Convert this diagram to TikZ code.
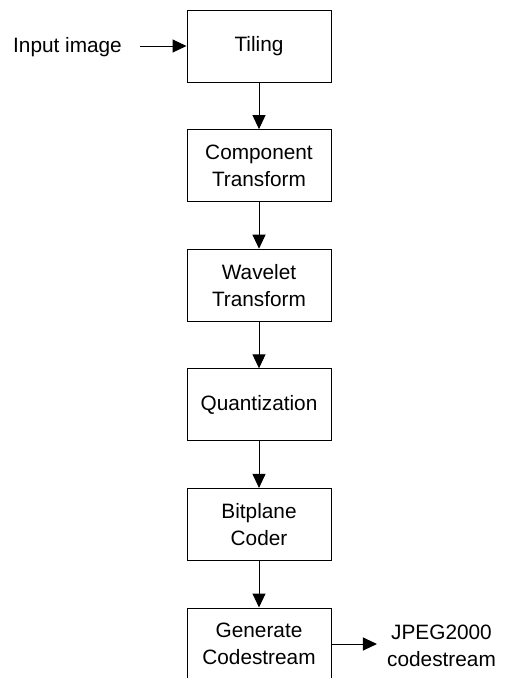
\documentclass[tikz,border=0pt]{standalone}
\usepackage{fontspec}
\setmainfont{Liberation Sans}
\usetikzlibrary{arrows.meta}

\tikzset{
  stage/.style={draw=black, line width=1pt, rectangle, minimum width=144pt,
    minimum height=72pt, inner sep=0pt, align=center},
  flow/.style={draw=black, line width=1pt, -{Triangle[length=14pt,width=13pt]}},
  lbl/.style={align=center, inner ysep=0pt}
}

\begin{document}
\begin{tikzpicture}[x=1pt, y=-1pt, font=\fontsize{20.8}{27}\selectfont]
  \useasboundingbox (0,0) rectangle (504,678);
  \clip (0,0) rectangle (504,678);

  % processing chain
  \node[stage] (tiling) at (259,46)    {Tiling};
  \node[stage] (comp)   at (259,165.6) {Component\\Transform};
  \node[stage] (wave)   at (259,285.2) {Wavelet\\Transform};
  \node[stage] (quant)  at (259,404.8) {Quantization};
  \node[stage] (bitpl)  at (259,524.4) {Bitplane\\Coder};
  \node[stage] (gen)    at (259,644)   {Generate\\Codestream};

  % input and output labels
  \node[lbl, inner xsep=18pt] (input) at (67.5,47) {Input image};
  \node[lbl, inner xsep=10pt] (out)   at (441.5,646) {JPEG2000\\codestream};

  % connectors
  \draw[flow] (input.east |- tiling.west) -- (tiling.west);
  \draw[flow] (tiling) -- (comp);
  \draw[flow] (comp) -- (wave);
  \draw[flow] (wave) -- (quant);
  \draw[flow] (quant) -- (bitpl);
  \draw[flow] (bitpl) -- (gen);
  \draw[flow] (gen.east) -- (gen.east -| out.west);
\end{tikzpicture}
\end{document}
